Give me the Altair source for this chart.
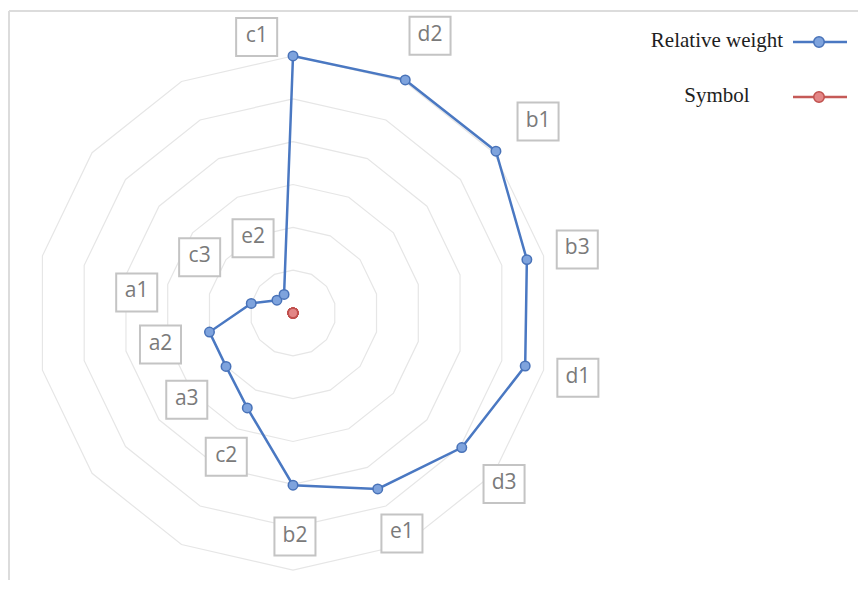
import altair as alt
import pandas as pd
import numpy as np

# ---------------- data ----------------
categories = ["c1", "d2", "b1", "b3", "d1", "d3", "e1", "b2", "c2", "a3", "a2", "a1", "c3", "e2"]
relative_weight = [0.300, 0.302, 0.303, 0.280, 0.278, 0.252, 0.228, 0.201, 0.123, 0.100, 0.100, 0.050, 0.024, 0.024]
symbol_values = [0, 0, 0, 0, 0, 0, 0, 0, 0, 0, 0, 0, 0, 0]
ring_levels = [0.05, 0.10, 0.15, 0.20, 0.25, 0.30]
series_names = ["Relative weight", "Symbol"]

# label placement (radius in value units, direction in degrees clockwise from top)
label_radius = [0.325, 0.361, 0.363, 0.340, 0.341, 0.317, 0.287, 0.261, 0.185, 0.160, 0.159, 0.184, 0.127, 0.099]
label_angle = [352.5, 26.3, 52.0, 77.4, 102.8, 129.0, 153.7, 179.5, 204.9, 230.8, 256.6, 277.5, 300.9, 331.9]

# ---------------- layout ----------------
W, H = 850, 572
CX, CY = 285, 305          # radar centre inside the plot area (px)
PX = 856.7                 # pixels per value unit
xdom = [-CX / PX, (W - CX) / PX]
ydom = [-(H - CY) / PX, CY / PX]

n = len(categories)
theta = np.arange(n) * 2 * np.pi / n

xs = alt.Scale(domain=xdom, nice=False, zero=False)
ys = alt.Scale(domain=ydom, nice=False, zero=False)

def X(f="x"):
    return alt.X(f"{f}:Q", scale=xs, axis=None)

def Y(f="y"):
    return alt.Y(f"{f}:Q", scale=ys, axis=None)

# grid rings
ring_rows = []
for lv in ring_levels:
    for k in range(n + 1):
        t = theta[k % n]
        ring_rows.append({"level": lv, "k": k, "x": lv * np.sin(t), "y": lv * np.cos(t)})
ring_df = pd.DataFrame(ring_rows)

# series
def series_df(vals, name):
    rows = []
    for k in range(n + 1):
        i = k % n
        rows.append({"series": name, "cat": categories[i], "k": k,
                     "x": vals[i] * np.sin(theta[i]), "y": vals[i] * np.cos(theta[i])})
    return pd.DataFrame(rows)

rw_df = series_df(relative_weight, series_names[0])
sy_df = series_df(symbol_values, series_names[1])

# labels
lab_df = pd.DataFrame({
    "cat": categories,
    "x": [r * np.sin(np.radians(a)) for r, a in zip(label_radius, label_angle)],
    "y": [r * np.cos(np.radians(a)) for r, a in zip(label_radius, label_angle)],
})

BLUE_LINE = "#4a78c2"
BLUE_FILL = "#7ea3dd"
BLUE_EDGE = "#4872b8"
RED_LINE = "#c55a57"
RED_FILL = "#e38686"
RED_EDGE = "#c0504d"

dummy = pd.DataFrame({"a": [0]})

frame_left = alt.Chart(dummy).mark_rule(color="#dcdcdc", strokeWidth=2).encode(
    x=alt.value(1), y=alt.value(3), y2=alt.value(H + 10))
frame_top = alt.Chart(dummy).mark_rule(color="#dcdcdc", strokeWidth=2).encode(
    x=alt.value(1), x2=alt.value(W + 10), y=alt.value(3))

rings = alt.Chart(ring_df).mark_line(color="#e6e6e6", strokeWidth=1.2).encode(
    x=X(), y=Y(), detail="level:N", order="k:Q")

box_path = "M-1.08,-1L1.08,-1L1.08,1L-1.08,1Z"
boxes = alt.Chart(lab_df).mark_point(
    shape=box_path, size=1444, filled=True, fill="white", fillOpacity=1,
    stroke="#c4c4c4", strokeWidth=2, opacity=1).encode(x=X(), y=Y())
texts = alt.Chart(lab_df).mark_text(
    font="Open Sans", fontSize=21, color="#7a7a7a", align="center", baseline="middle", dy=-1
).encode(x=X(), y=Y(), text="cat:N")

rw_line = alt.Chart(rw_df).mark_line(color=BLUE_LINE, strokeWidth=2.5).encode(
    x=X(), y=Y(), order="k:Q")
rw_pts = alt.Chart(rw_df).transform_filter(f"datum.k < {n}").mark_point(
    filled=True, fill=BLUE_FILL, stroke=BLUE_EDGE, strokeWidth=1.5, size=90, opacity=1
).encode(x=X(), y=Y())

sy_line = alt.Chart(sy_df).mark_line(color=RED_LINE, strokeWidth=2.5).encode(
    x=X(), y=Y(), order="k:Q")
sy_pts = alt.Chart(sy_df).transform_filter(f"datum.k < {n}").mark_point(
    filled=True, fill=RED_FILL, stroke=RED_EDGE, strokeWidth=1.5, size=90, opacity=1
).encode(x=X(), y=Y())

# legend (drawn by hand)
leg_layers = []
for name, ly, lc, fc, ec in [(series_names[0], 34, BLUE_LINE, BLUE_FILL, BLUE_EDGE),
                             (series_names[1], 89, RED_LINE, RED_FILL, RED_EDGE)]:
    ldf = pd.DataFrame({"name": [name]})
    leg_layers.append(alt.Chart(ldf).mark_text(
        font="Liberation Serif", fontSize=21, color="#1e1e1e", align="center", baseline="middle"
    ).encode(x=alt.value(709), y=alt.value(ly - 1), text="name:N"))
    leg_layers.append(alt.Chart(ldf).mark_rule(color=lc, strokeWidth=2.5).encode(
        x=alt.value(785), x2=alt.value(839), y=alt.value(ly)))
    leg_layers.append(alt.Chart(ldf).mark_point(
        filled=True, fill=fc, stroke=ec, strokeWidth=1.5, size=110, opacity=1
    ).encode(x=alt.value(811), y=alt.value(ly)))

chart = alt.layer(
    frame_left, frame_top, rings, boxes, texts, rw_line, rw_pts, sy_line, sy_pts, *leg_layers
).properties(
    width=W, height=H, padding=0, autosize="none", background="white"
).configure_view(stroke=None)

chart.save("out.html", embed_options={"renderer": "svg", "actions": False})
